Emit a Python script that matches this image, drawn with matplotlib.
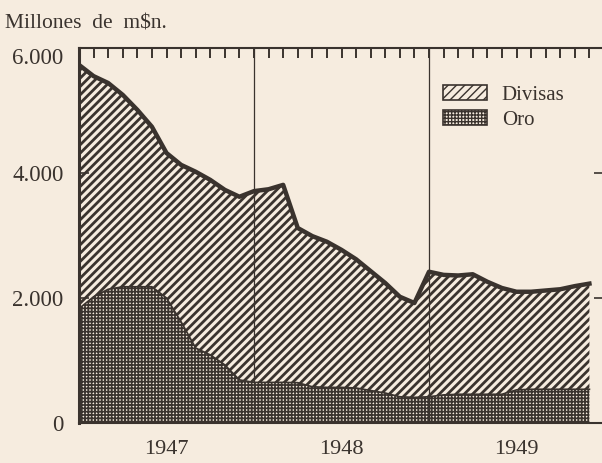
import numpy as np
import matplotlib
matplotlib.use("Agg")
import matplotlib.pyplot as plt
from matplotlib.patches import Patch
from matplotlib.ticker import NullFormatter

# Reservas: divisas y oro, 1947-1949 (millones de m$n., fin de mes)
meses = np.arange(0, 36)  # 0 = dic. 1946 ... 35 = nov. 1949
total = [5730, 5550, 5440, 5250, 5010, 4740, 4320, 4130, 4020, 3890, 3730, 3620,
         3710, 3740, 3810, 3120, 2990, 2900, 2770, 2620, 2430, 2240, 2020, 1920,
         2420, 2370, 2360, 2380, 2260, 2160, 2100, 2100, 2120, 2140, 2190, 2230]
oro = [1830, 2020, 2140, 2180, 2180, 2180, 2000, 1620, 1200, 1090, 930, 690,
       650, 650, 650, 645, 580, 570, 570, 560, 520, 480, 420, 410,
       420, 450, 460, 460, 460, 460, 530, 540, 540, 540, 540, 540]
anios = ["1947", "1948", "1949"]
pos_anios = [6, 18, 30]
y_ticks = [0, 2000, 4000, 6000]
y_labels = ["0", "2.000", "4.000", "6.000"]

fondo = "#f6ecdf"
tinta = "#3a332e"

plt.rcParams["font.family"] = ["Liberation Serif", "DejaVu Serif"]
plt.rcParams["hatch.color"] = tinta

fig = plt.figure(figsize=(6.02, 4.63), dpi=100, facecolor=fondo)
ax = fig.add_axes([79 / 602, 1 - 423 / 463, 525 / 602, 375 / 463])
ax.set_facecolor(fondo)

# divisas: rayado diagonal; oro: trama fina
with plt.rc_context({"hatch.linewidth": 2.0}):
    ax.fill_between(meses, oro, total, facecolor=fondo, edgecolor=tinta,
                    hatch="////", linewidth=0)
    h_div = Patch(facecolor=fondo, edgecolor=tinta, hatch="////", lw=1.2)
with plt.rc_context({"hatch.linewidth": 1.25}):
    ax.fill_between(meses, 0, oro, facecolor=fondo, edgecolor=tinta,
                    hatch="+++++", linewidth=0)
    h_oro = Patch(facecolor=fondo, edgecolor=tinta, hatch="+++++", lw=1.2)
ax.plot(meses, total, color=tinta, lw=3.2, solid_joinstyle="round")
ax.plot(meses, oro, color=tinta, lw=1.2)

for x in [12, 24]:
    ax.axvline(x, color=tinta, lw=0.9)

ax.set_xlim(0, 36)
ax.set_ylim(0, 6000)

ax.spines["right"].set_visible(False)
for s in ["left", "top", "bottom"]:
    ax.spines[s].set_color(tinta)
ax.spines["left"].set_linewidth(2.2)
ax.spines["top"].set_linewidth(1.5)
ax.spines["bottom"].set_linewidth(1.5)

ax.set_xticks(np.arange(0, 37))
ax.xaxis.set_major_formatter(NullFormatter())
ax.tick_params(axis="x", top=True, bottom=False,
               direction="in", length=7, width=1.4, color=tinta)
for x, a in zip(pos_anios, anios):
    ax.text(x, -0.07, a, transform=ax.get_xaxis_transform(), ha="center",
            va="center", fontsize=16, color=tinta)

ax.set_yticks(y_ticks, labels=y_labels)
ax.tick_params(axis="y", left=True, right=True, direction="in", length=7,
               width=1.2, color=tinta, pad=11, labelsize=16.5, labelcolor=tinta)
ax.get_yticklabels()[-1].set_verticalalignment("top")

fig.text(5 / 602, 1 - 24 / 463, "Millones  de  m\\$n.", fontsize=15.5,
         color=tinta, va="center", ha="left")

ax.legend([h_div, h_oro], ["Divisas", "Oro"], loc="upper left",
          bbox_to_anchor=(433 / 602, 1 - 75 / 463), bbox_transform=fig.transFigure,
          frameon=False, fontsize=15, handlelength=2.1, handleheight=0.7,
          handletextpad=0.7, labelspacing=0.25, borderpad=0, labelcolor=tinta)

fig.savefig("out.png", dpi=100, facecolor=fondo)
